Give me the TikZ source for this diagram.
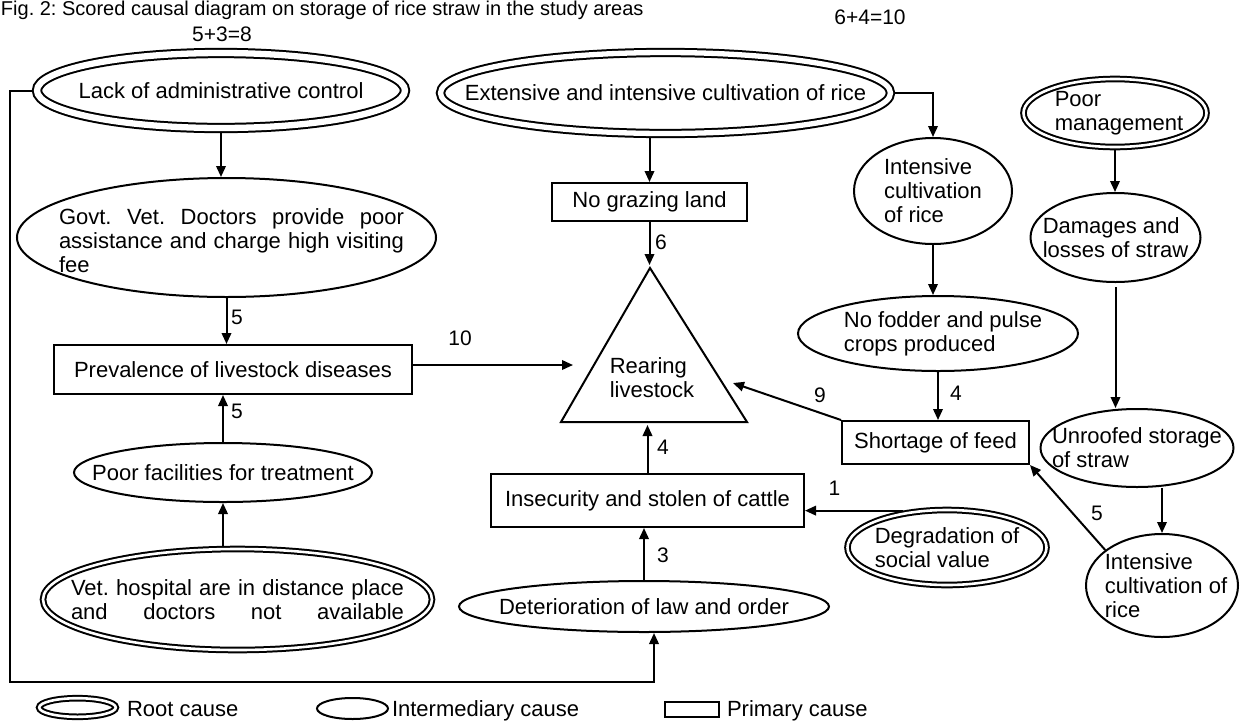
\documentclass[tikz,border=0pt]{standalone}
\usepackage{fontspec}
\setmainfont{Liberation Sans}
\usetikzlibrary{arrows.meta,shapes.geometric}
\hyphenpenalty=10000
\tolerance=10000
\frenchspacing
\begin{document}
\begin{tikzpicture}[x=1pt,y=-1pt,line width=2pt,
	every node/.style={font=\fontsize{22}{24}\selectfont,inner sep=0pt},
	arr/.style={-{Triangle[length=11pt,width=9.5pt]}},
	rootc/.style={ellipse,draw,double,double distance=#1,outer sep=#1/2+2pt},
	rootc/.default=2.6pt,
	midc/.style={ellipse,draw},
	primc/.style={rectangle,draw},
	lbl/.style={font=\fontsize{21}{23}\selectfont},
	]
	\useasboundingbox (0,0) rectangle (1243,721);
	
	\node[anchor=base west,font=\fontsize{20}{22}\selectfont] (cap) at (0,15.5) {Fig. 2: Scored causal diagram on storage of rice straw in the study areas};
	
	% root causes
	\node[rootc=6.3pt,minimum width=368pt,minimum height=75pt,label={center:Lack of administrative control}] (lack) at (221,90.5) {};
	\node[rootc=5.3pt,minimum width=450pt,minimum height=81pt,label={center:Extensive and intensive cultivation of rice}] (ext) at (665.5,93) {};
	\node[rootc,minimum width=183pt,minimum height=68pt,label={[align=left,xshift=4pt]center:Poor\\management}] (poorm) at (1115,113) {};
	\node[rootc,minimum width=389pt,minimum height=101pt,label={[align=left]center:\makebox[333pt][s]{Vet. hospital are in distance place}\\\makebox[333pt][s]{and doctors not available}}] (vethosp) at (237.5,599.5) {};
	\node[rootc,minimum width=199pt,minimum height=75pt,label={[align=left]center:Degradation of\\social value}] (degr) at (947,547.5) {};
	
	% intermediary causes
	\node[midc,minimum width=419pt,minimum height=119pt,label={[text width=345pt,align=justify,xshift=5pt,yshift=-3pt]center:Govt. Vet. Doctors provide poor assistance and charge high visiting fee}] (govt) at (226.5,237.5) {};
	\node[midc,minimum width=298pt,minimum height=59pt,label={center:Poor facilities for treatment}] (poorfac) at (223,472.5) {};
	\node[midc,minimum width=370pt,minimum height=51pt,label={center:Deterioration of law and order}] (deter) at (644,606.5) {};
	\node[midc,minimum width=158pt,minimum height=106pt,label={[align=left]center:Intensive\\cultivation\\of rice}] (intens1) at (933,191) {};
	\node[midc,minimum width=280pt,minimum height=75pt,label={[align=left,xshift=5pt]center:No fodder and pulse\\crops produced}] (fodder) at (938,333.5) {};
	\node[midc,minimum width=170pt,minimum height=89pt,label={[align=left]center:Damages and\\losses of straw}] (damage) at (1115.5,237.5) {};
	\node[midc,minimum width=193pt,minimum height=78pt,label={[align=left]center:Unroofed storage\\of straw}] (unroof) at (1137,448) {};
	\node[midc,minimum width=152pt,minimum height=103pt,label={[align=left,xshift=4pt]center:Intensive\\cultivation of\\rice}] (intens2) at (1162,585.5) {};
	
	% primary causes
	\node[primc,minimum width=358pt,minimum height=49pt] (prev) at (233,369.5) {Prevalence of livestock diseases};
	\node[primc,minimum width=195pt,minimum height=38pt] (nograze) at (649.5,202) {No grazing land};
	\node[primc,minimum width=313pt,minimum height=53pt] (insec) at (647.5,500.5) {Insecurity and stolen of cattle};
	\node[primc,minimum width=187pt,minimum height=43pt] (short) at (935.5,442.5) {Shortage of feed};
	
	% main problem
	\coordinate (apex) at (650,268);
	\coordinate (basel) at (561,422);
	\coordinate (baser) at (747,422);
	\draw (apex) -- (basel) -- (baser) -- cycle;
	\node[align=left] (rear) at (652,378) {Rearing\\livestock};
	\coordinate (tipt) at (649.5,265);
	\coordinate (tipl) at (573,365);
	\coordinate (tipr) at (733,383);
	\coordinate (tipb) at (647.5,425);
	\coordinate (loopc) at (10,682);
	
	% connectors
	\draw[arr] (lack.south) -- (lack.south |- govt.north);
	\draw[arr] (govt.south) -- (govt.south |- prev.north);
	\draw[arr] (poorfac.north) -- (poorfac.north |- prev.south);
	\draw[arr] (vethosp.north -| poorfac.south) -- (poorfac.south);
	\draw[arr] (tipl -| prev.east) -- (tipl);
	\draw[arr] (ext.south -| nograze.north) -- (nograze.north);
	\draw[arr] (nograze.south) -- (tipt);
	\draw[arr] (ext.east) -| (intens1.north);
	\draw[arr] (intens1.south) -- (intens1.south |- fodder.north);
	\draw[arr] (fodder.south) -- (fodder.south |- short.north);
	\draw[arr] (short.north west) -- (tipr);
	\draw[arr] (insec.north) -- (tipb);
	\draw[arr] (deter.north) -- (deter.north |- insec.south);
	\draw[arr] (degr.140) -- (degr.140 -| insec.east);
	\draw[arr] (lack.west) -| (loopc) -| ([xshift=10pt]deter.south);
	\draw[arr] (poorm.south) -- (poorm.south |- damage.north);
	\draw[arr] ([yshift=-4pt]damage.south) -- (damage.south |- unroof.north);
	\draw[arr] (intens2.north |- unroof.south) -- (intens2.north);
	\draw[arr] (intens2.148) -- (short.south east);
	
	% scores
	\node[lbl] (sumA) at (222,34) {5+3=8};
	\node[lbl] (sumB) at (870,17.5) {6+4=10};
	\node[lbl] (wA) at (237,317) {5};
	\node[lbl] (wB) at (237,411) {5};
	\node[lbl] (wC) at (460,338) {10};
	\node[lbl] (wD) at (661,242) {6};
	\node[lbl] (wE) at (820,395) {9};
	\node[lbl] (wF) at (956,393) {4};
	\node[lbl] (wG) at (663,447) {4};
	\node[lbl] (wH) at (663,555) {3};
	\node[lbl] (wI) at (834.5,488) {1};
	\node[lbl] (wJ) at (1097,513) {5};
	
	% legend
	\node[rootc,minimum width=76.6pt,minimum height=18.6pt] (lgroot) at (77.5,707.5) {};
	\node[anchor=base west] (lgroott) at (126,716.5) {Root cause};
	\node[midc,minimum width=71pt,minimum height=21pt] (lgmid) at (352.5,708.5) {};
	\node[anchor=base west] (lgmidt) at (391,716.5) {Intermediary cause};
	\node[primc,minimum width=54pt,minimum height=15pt] (lgprim) at (692,709.5) {};
	\node[anchor=base west] (lgprimt) at (726,716.5) {Primary cause};
\end{tikzpicture}
\end{document}
